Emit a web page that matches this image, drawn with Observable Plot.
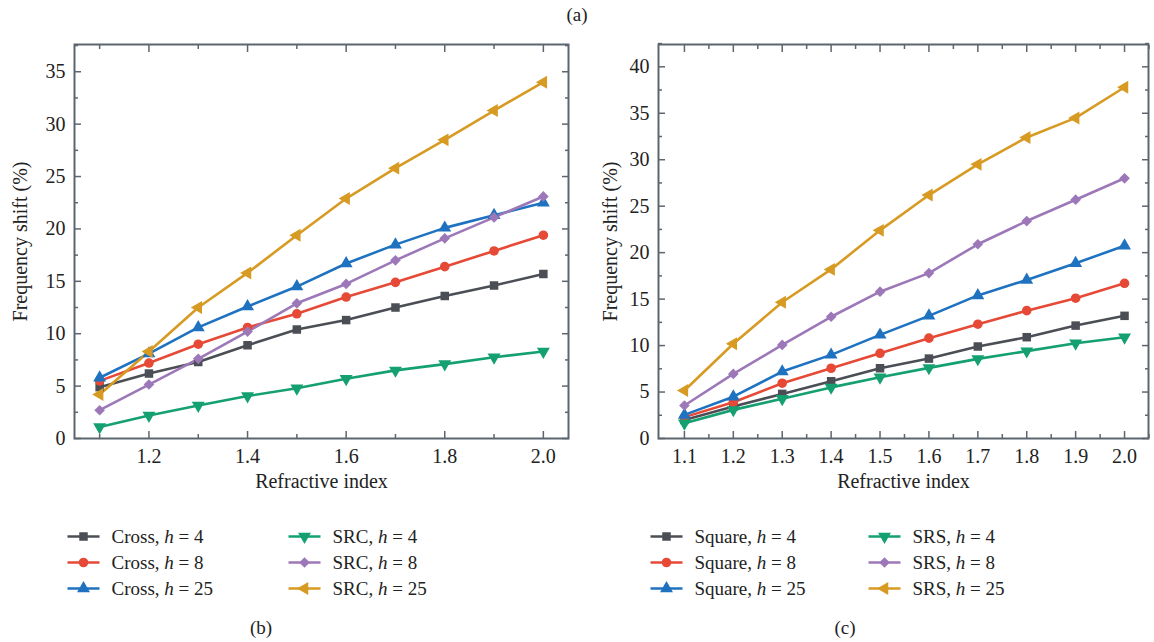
<!DOCTYPE html>
<html><head><meta charset="utf-8">
<script src="https://cdn.jsdelivr.net/npm/d3@7"></script>
<script src="https://cdn.jsdelivr.net/npm/@observablehq/plot@0.6"></script>
<style>
body{margin:0;background:#fff;}
#root{position:relative;width:1154px;height:642px;font-family:"Liberation Serif",serif;color:#222;overflow:hidden;}
#root svg{position:absolute;}
.cap{position:absolute;font-size:19px;transform:translate(-50%,-50%);white-space:nowrap;}
</style></head><body><div id="root"></div>
<script>
// ---- data ----
const refractiveIndex = [1.1, 1.2, 1.3, 1.4, 1.5, 1.6, 1.7, 1.8, 1.9, 2.0];

// panel (b)
const namesB = ["Cross, h = 4", "Cross, h = 8", "Cross, h = 25", "SRC, h = 4", "SRC, h = 8", "SRC, h = 25"];
const crossH4  = [4.9, 6.2, 7.3, 8.9, 10.4, 11.3, 12.5, 13.6, 14.6, 15.7];
const crossH8  = [5.5, 7.2, 9.0, 10.6, 11.9, 13.5, 14.9, 16.4, 17.9, 19.4];
const crossH25 = [5.8, 8.1, 10.6, 12.6, 14.5, 16.7, 18.5, 20.1, 21.3, 22.5];
const srcH4    = [1.1, 2.2, 3.15, 4.05, 4.8, 5.7, 6.5, 7.1, 7.75, 8.3];
const srcH8    = [2.7, 5.15, 7.6, 10.2, 12.9, 14.75, 17.0, 19.1, 21.1, 23.1];
const srcH25   = [4.2, 8.3, 12.5, 15.8, 19.4, 22.9, 25.8, 28.5, 31.3, 34.0];

// panel (c)
const namesC = ["Square, h = 4", "Square, h = 8", "Square, h = 25", "SRS, h = 4", "SRS, h = 8", "SRS, h = 25"];
const squareH4  = [2.0, 3.44, 4.8, 6.16, 7.56, 8.6, 9.9, 10.9, 12.15, 13.2];
const squareH8  = [2.3, 3.9, 5.95, 7.56, 9.17, 10.8, 12.3, 13.76, 15.1, 16.7];
const squareH25 = [2.54, 4.5, 7.2, 9.0, 11.15, 13.2, 15.4, 17.06, 18.85, 20.75];
const srsH4     = [1.65, 3.08, 4.27, 5.5, 6.6, 7.6, 8.57, 9.4, 10.25, 10.9];
const srsH8     = [3.55, 6.95, 10.07, 13.1, 15.8, 17.8, 20.9, 23.4, 25.7, 28.0];
const srsH25    = [5.16, 10.2, 14.66, 18.2, 22.4, 26.2, 29.5, 32.4, 34.5, 37.8];

// ticks
const xTicksB = [1.2, 1.4, 1.6, 1.8, 2.0];
const xMinorB = [1.1, 1.3, 1.5, 1.7, 1.9];
const yTicksB = [0, 5, 10, 15, 20, 25, 30, 35];
const yMinorB = [2.5, 7.5, 12.5, 17.5, 22.5, 27.5, 32.5, 37.5];
const xTicksC = [1.1, 1.2, 1.3, 1.4, 1.5, 1.6, 1.7, 1.8, 1.9, 2.0];
const xMinorC = [1.15, 1.25, 1.35, 1.45, 1.55, 1.65, 1.75, 1.85, 1.95, 2.05];
const yTicksC = [0, 5, 10, 15, 20, 25, 30, 35, 40];
const yMinorC = [2.5, 7.5, 12.5, 17.5, 22.5, 27.5, 32.5, 37.5, 42.5];

// ---- styles ----
const colors = ["#4b4f55", "#e64a36", "#1f72c0", "#15a071", "#9d78b9", "#d79a22"];
const sqrt3 = Math.sqrt(3);
const triDown = {draw(ctx, size) { const y = -Math.sqrt(size / (sqrt3 * 3)); ctx.moveTo(0, -2 * y); ctx.lineTo(-sqrt3 * y, y); ctx.lineTo(sqrt3 * y, y); ctx.closePath(); }};
const triLeft = {draw(ctx, size) { const y = -Math.sqrt(size / (sqrt3 * 3)); ctx.moveTo(2 * y, 0); ctx.lineTo(-y, -sqrt3 * y); ctx.lineTo(-y, sqrt3 * y); ctx.closePath(); }};
const lineSym = {draw(ctx) { ctx.moveTo(-16, 0); ctx.lineTo(16, 0); }};
const symbols = ["square", "circle", "triangle", triDown, "diamond2", triLeft];
const frameColor = "#5d6670";
const FONT = "Liberation Serif";

function panel(o) {
  const marks = [];
  o.values.forEach((vals, i) => {
    const rows = vals.map((v, j) => ({x: refractiveIndex[j], y: v}));
    marks.push(Plot.line(rows, {x: "x", y: "y", stroke: colors[i], strokeWidth: 2.6}));
  });
  o.values.forEach((vals, i) => {
    const rows = vals.map((v, j) => ({x: refractiveIndex[j], y: v}));
    marks.push(Plot.dot(rows, {x: "x", y: "y", fill: colors[i], symbol: symbols[i], r: 4.8}));
  });
  const tk = {stroke: frameColor, strokeWidth: 1.5, tickFormat: () => ""};
  marks.push(
    Plot.frame({stroke: frameColor, strokeWidth: 2}),
    Plot.axisX(o.xTicks, {...tk, anchor: "bottom", tickSize: 7, dy: -7}),
    Plot.axisX(o.xMinor, {...tk, anchor: "bottom", tickSize: 4, dy: -4}),
    Plot.axisX(o.xTicks, {...tk, anchor: "top", tickSize: 7, dy: 7}),
    Plot.axisX(o.xMinor, {...tk, anchor: "top", tickSize: 4, dy: 4}),
    Plot.axisY(o.yTicks, {...tk, anchor: "left", tickSize: 7, dx: 7}),
    Plot.axisY(o.yMinor, {...tk, anchor: "left", tickSize: 4, dx: 4}),
    Plot.axisY(o.yTicks, {...tk, anchor: "right", tickSize: 7, dx: -7}),
    Plot.axisY(o.yMinor, {...tk, anchor: "right", tickSize: 4, dx: -4}),
    Plot.axisX(o.xTicks, {anchor: "bottom", tickSize: 0, tickPadding: 10, tickFormat: d => d.toFixed(1), fill: "#222"}),
    Plot.axisY(o.yTicks, {anchor: "left", tickSize: 0, tickPadding: 9, tickFormat: d => String(d), fill: "#222"}),
    Plot.text(["Frequency shift (%)"], {frameAnchor: "left", rotate: -90, textAnchor: "middle", dx: o.yLabelDx, fill: "#222"}),
    Plot.text(["Refractive index"], {frameAnchor: "bottom", textAnchor: "middle", dy: 49, fill: "#222"})
  );
  const svg = Plot.plot({
    width: 577, height: 500,
    marginLeft: o.marginLeft, marginRight: o.marginRight, marginTop: 44, marginBottom: 62,
    style: {fontFamily: FONT, fontSize: "20px", color: "#222", background: "transparent", overflow: "visible"},
    x: {domain: o.xDomain, label: null, axis: null},
    y: {domain: o.yDomain, label: null, axis: null},
    marks
  });
  svg.style.left = o.left + "px";
  svg.style.top = "0px";
  return svg;
}

function legend(o) {
  const marks = [];
  o.names.forEach((n, i) => {
    const e = [{col: Math.floor(i / 3), row: i % 3, name: n}];
    marks.push(Plot.dot(e, {x: "col", y: "row", symbol: lineSym, stroke: colors[i], fill: "none", strokeWidth: 2.6, r: 5}));
    marks.push(Plot.dot(e, {x: "col", y: "row", symbol: symbols[i], fill: colors[i], r: 4.8}));
    marks.push(Plot.text(e, {x: "col", y: "row", text: "name", textAnchor: "start", dx: 28, fill: "#222"}));
  });
  const svg = Plot.plot({
    width: 577, height: 110,
    marginLeft: o.c0, marginRight: 577 - o.c1, marginTop: 36, marginBottom: 22,
    style: {fontFamily: FONT, fontSize: "19px", background: "transparent", overflow: "visible"},
    x: {type: "point", domain: [0, 1], padding: 0, axis: null},
    y: {type: "point", domain: [0, 1, 2], padding: 0, axis: null},
    marks
  });
  svg.querySelectorAll("text").forEach(t => {
    const s = t.textContent;
    const k = s.indexOf(" h ");
    if (k < 0) return;
    t.textContent = "";
    t.appendChild(document.createTextNode(s.slice(0, k + 1)));
    const ts = document.createElementNS("http://www.w3.org/2000/svg", "tspan");
    ts.setAttribute("font-style", "italic");
    ts.textContent = "h";
    t.appendChild(ts);
    t.appendChild(document.createTextNode(s.slice(k + 2)));
  });
  svg.style.left = o.left + "px";
  svg.style.top = "500px";
  return svg;
}

const root = document.getElementById("root");
root.appendChild(panel({
  values: [crossH4, crossH8, crossH25, srcH4, srcH8, srcH25],
  xTicks: xTicksB, xMinor: xMinorB, yTicks: yTicksB, yMinor: yMinorB,
  xDomain: [1.049, 2.051], yDomain: [0, 37.6], marginLeft: 74, marginRight: 9, left: 0, yLabelDx: -54
}));
root.appendChild(panel({
  values: [squareH4, squareH8, squareH25, srsH4, srsH8, srsH25],
  xTicks: xTicksC, xMinor: xMinorC, yTicks: yTicksC, yMinor: yMinorC,
  xDomain: [1.047, 2.049], yDomain: [0, 42.4], marginLeft: 81, marginRight: 6, left: 577, yLabelDx: -48
}));
root.appendChild(legend({names: namesB, c0: 83, c1: 304, left: 0}));
root.appendChild(legend({names: namesC, c0: 89, c1: 307, left: 577}));

function cap(text, x, y) {
  const d = document.createElement("div");
  d.className = "cap"; d.textContent = text;
  d.style.left = x + "px"; d.style.top = y + "px";
  root.appendChild(d);
}
cap("(a)", 577, 15);
cap("(b)", 261, 628);
cap("(c)", 845, 628);
</script></body></html>
